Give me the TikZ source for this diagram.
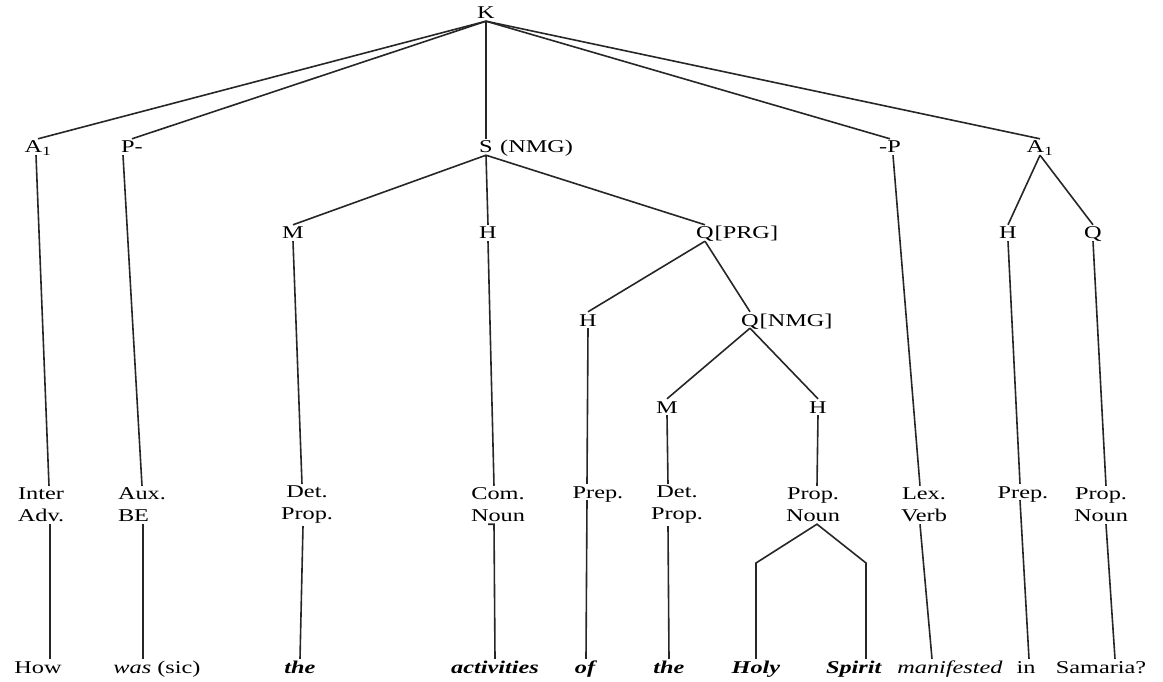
\documentclass[tikz,border=0pt]{standalone}
\usepackage{fontspec}
\setmainfont[FakeStretch=1.35]{Liberation Serif}

\begin{document}
\begin{tikzpicture}
	[   x=1pt,y=-1pt,
	    tag/.style={inner sep=2pt,text height=12pt,text depth=0pt,font=\fontsize{18}{22}\selectfont},
	    cat/.style={inner sep=2pt,align=#1,font=\fontsize{18}{22}\selectfont},
	    cat/.default=center,
	]
	\tikzset{branch/.style={draw=black!85,line width=1.6pt}}
	\useasboundingbox (0,0) rectangle (1163,682);
	
	\node[tag] (k) at (486,13) {K};
	
	\node[tag] (a-1) at (38,147) {A\textsubscript{1}};
	\node[tag] (p-1) at (132,147) {P-};
	\node[tag,label={[tag,label distance=3pt]0:(NMG)}] (s) at (486,147) {S};
	\node[tag] (p-2) at (890,147) {-P};
	\node[tag] (a-2) at (1040,147) {A\textsubscript{1}};
	
	\node[tag] (m-1) at (293,233) {M};
	\node[tag] (h-1) at (488,233) {H};
	\node[tag,label={[tag,inner sep=0pt,label distance=-1.5pt]0:{[PRG]}}] (q-1) at (705,233) {Q};
	\node[tag] (h-4) at (1008,233) {H};
	\node[tag] (q-3) at (1093,233) {Q};
	
	\node[tag] (h-2) at (588,320) {H};
	\node[tag,label={[tag,inner sep=0pt,label distance=-1.5pt]0:{[NMG]}}] (q-2) at (750,320) {Q};
	
	\node[tag] (m-2) at (667,407) {M};
	\node[tag] (h-3) at (818,407) {H};
	
	% word classes
	\foreach \i/\x/\t in {1/41/{Inter\\Adv.},3/307/{Det.\\Prop.},4/498/{Com.\\Noun},6/677/{Det.\\Prop.},7/813/{Prop.\\Noun},8/924/{Lex.\\Verb},10/1101/{Prop.\\Noun}}
	{
		\node[cat] (c-\i) at (\x,505) {\t};
	}
	\node[cat=left] (c-2) at (142,505) {Aux.\\BE};
	\node[tag] (c-5) at (598,492) {Prep.};
	\node[tag] (c-9) at (1023,492) {Prep.};
	
	% words
	\foreach \i/\x/\t in {1/38/How,2/157/{\textit{was} (sic)},3/300/{\textbf{\textit{the}}},4/495/{\textbf{\textit{activities}}},5/586/{\textbf{\textit{of}}},6/669/{\textbf{\textit{the}}},7/756/{\textbf{\textit{Holy}}},8/854/{\textbf{\textit{Spirit}}},9/950/{\textit{manifested}},10/1026/in,11/1101/Samaria?}
	{
		\node[tag] (w-\i) at (\x,667) {\t};
	}
	
	\coordinate (f-1) at (756,563);
	\coordinate (f-2) at (866,563);
	
	\foreach \n in {a-1,p-1,s,p-2,a-2}
	{
		\path[branch] (k.south) -- (\n.north);
	}
	\foreach \n in {m-1,h-1,q-1}
	{
		\path[branch] (s.south) -- (\n.north);
	}
	\path[branch] (q-1.south) -- (h-2.north);
	\path[branch] (q-1.south) -- (q-2.north);
	\path[branch] (q-2.south) -- (m-2.north);
	\path[branch] (q-2.south) -- (h-3.north);
	\path[branch] (a-2.south) -- (h-4.north);
	\path[branch] (a-2.south) -- (q-3.north);
	
	\path[branch] ([xshift=-2pt]a-1.south) -- ([xshift=8pt]c-1.north);
	\path[branch] ([xshift=-9pt]p-1.south) -- (c-2.north);
	\path[branch] (m-1.south) -- ([xshift=-5pt]c-3.north);
	\path[branch] (h-1.south) -- ([xshift=-4pt]c-4.north);
	\path[branch] (h-2.south) -- ([xshift=-11pt]c-5.north);
	\path[branch] (m-2.south) -- ([xshift=-9pt]c-6.north);
	\path[branch] (h-3.south) -- ([xshift=4pt]c-7.north);
	\path[branch] ([xshift=3pt]p-2.south) -- ([xshift=-4pt]c-8.north);
	\path[branch] (h-4.south) -- ([xshift=-3pt]c-9.north);
	\path[branch] (q-3.south) -- ([xshift=5pt]c-10.north);
	
	\path[branch] ([xshift=9pt]c-1.south) -- ([xshift=12pt]w-1.north);
	\path[branch] ([xshift=1pt]c-2.south) -- ([xshift=-14pt]w-2.north);
	\path[branch] ([xshift=-4pt]c-3.south) -- (w-3.north);
	\path[branch] ([xshift=-10pt]c-4.south) -- ([xshift=-4pt]c-4.south) -- (w-4.north);
	\path[branch] ([xshift=-11pt]c-5.south) -- (w-5.north);
	\path[branch] ([xshift=-9pt]c-6.south) -- (w-6.north);
	\path[branch] (w-7.north) -- (f-1) -- ([xshift=4pt]c-7.south) -- (f-2) -- ([xshift=12pt]w-8.north);
	\path[branch] ([xshift=-4pt]c-8.south) -- ([xshift=-18pt]w-9.north);
	\path[branch] ([xshift=-3pt]c-9.south) -- ([xshift=3pt]w-10.north);
	\path[branch] ([xshift=5pt]c-10.south) -- ([xshift=14pt]w-11.north);
\end{tikzpicture}
\end{document}
